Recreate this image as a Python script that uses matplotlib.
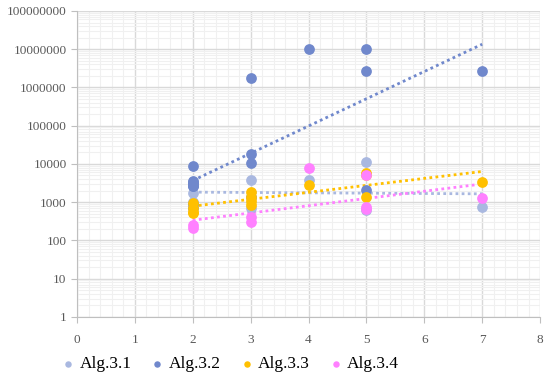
import numpy as np
import matplotlib.pyplot as plt
from matplotlib.ticker import FuncFormatter, MultipleLocator, LogLocator

plt.rcParams['font.family'] = ['Liberation Serif', 'DejaVu Serif']

# values (some points overlap / hide behind others at x=2, 3 and 5)
x_31 = [2, 2, 3, 3, 4, 5, 5, 7]
y_31 = [1750, 1000, 3800, 710, 3800, 11000, 630, 760]

x_32 = [2, 2, 2, 2, 2, 2, 2, 2, 2, 3, 3, 3, 3, 4, 5, 5, 5, 7]
y_32 = [8700, 3600, 3300, 3000, 2800, 2700, 2600, 900, 700,
        1.8e6, 18000, 10700, 1400, 1e7, 1e7, 2.7e6, 2100, 2.7e6]

x_33 = [2, 2, 2, 2, 3, 3, 3, 3, 4, 5, 5, 5, 7]
y_33 = [950, 710, 560, 520, 1850, 1380, 1100, 850, 2800, 5800, 5300, 1380, 3400]

x_34 = [2, 2, 3, 3, 4, 5, 5, 5, 7]
y_34 = [250, 210, 400, 300, 7800, 5000, 750, 650, 1260]

series = [
    ('Alg.3.1', x_31, y_31, '#A9B8E0'),
    ('Alg.3.2', x_32, y_32, '#7088CC'),
    ('Alg.3.3', x_33, y_33, '#FFC000'),
    ('Alg.3.4', x_34, y_34, '#FF80FF'),
]

fig = plt.figure(figsize=(5.5, 3.87), dpi=100)
ax = fig.add_axes([0.14, 0.181, 0.842, 0.7906])

for name, xs, ys, col in series:
    ax.scatter(xs, ys, s=60, color=col, label=name, zorder=3, linewidths=0)
    # excel style exponential trendline
    k, b = np.polyfit(xs, np.log(ys), 1)
    tx = np.array([min(xs), max(xs)])
    ax.plot(tx, np.exp(k * tx + b), color=col, lw=2, ls=(0, (1, 1.2)), zorder=2)

ax.set_yscale('log')
ax.set_xlim(0, 8)
ax.set_ylim(1, 1e8)
ax.xaxis.set_major_locator(MultipleLocator(1))
ax.xaxis.set_minor_locator(MultipleLocator(0.2))
ax.yaxis.set_major_locator(LogLocator(base=10, numticks=20))
ax.yaxis.set_minor_locator(LogLocator(base=10, subs=np.arange(2, 10), numticks=20))
ax.yaxis.set_major_formatter(FuncFormatter(lambda v, p: '%d' % round(v)))
ax.yaxis.set_minor_formatter(FuncFormatter(lambda v, p: ''))

ax.grid(which='major', color='#D9D9D9', lw=1)
ax.grid(which='minor', color='#F0F0F0', lw=0.8)
ax.set_axisbelow(True)
for s in ['top', 'right']:
    ax.spines[s].set_visible(False)
for s in ['left', 'bottom']:
    ax.spines[s].set_color('#BFBFBF')
ax.tick_params(which='major', colors='#BFBFBF', labelcolor='#595959',
               labelsize=9.5, length=4)
ax.tick_params(which='minor', length=0)
ax.tick_params(axis='x', pad=8)

ax.legend(loc='center', bbox_to_anchor=(0.327, -0.155), ncol=4, frameon=False,
          fontsize=12.5, handletextpad=0.05, columnspacing=0.9, markerscale=0.6,
          handlelength=1.2)

fig.savefig('out.png')
